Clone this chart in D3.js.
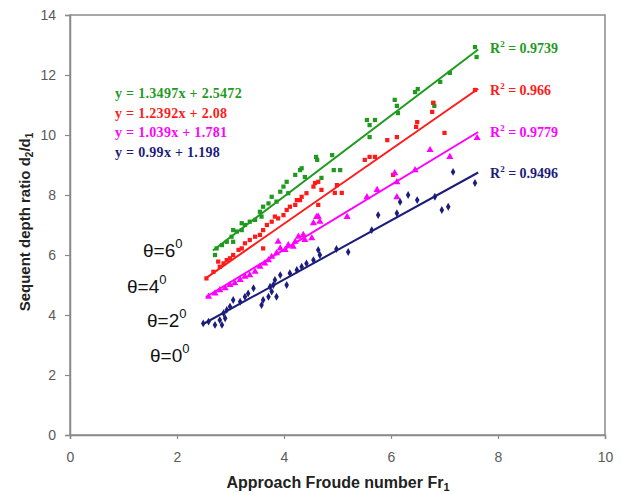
<!DOCTYPE html>
<html>
<head>
<meta charset="utf-8">
<script src="https://cdn.jsdelivr.net/npm/d3@7"></script>
<style>
  body { margin: 0; background: #fff; }
  svg { display: block; }
</style>
</head>
<body>
<svg id="chart" width="621" height="495"></svg>
<script>
// ---------- data ----------
const xTicks = [0, 2, 4, 6, 8, 10];
const yTicks = [0, 2, 4, 6, 8, 10, 12, 14];

const seriesNames = ["theta6", "theta4", "theta2", "theta0"];
const seriesColors = ["#1f9a1f", "#ff1a1a", "#ff00ff", "#1c1c7c"];
const equations = ["y = 1.3497x + 2.5472", "y = 1.2392x + 2.08", "y = 1.039x + 1.781", "y = 0.99x + 1.198"];
const r2Values = ["0.9739", "0.966", "0.9779", "0.9496"];
const thetaLabels = ["6", "4", "2", "0"];

// trend line end points [x0, y0, x1, y1]
const trendGreen = [2.67, 6.15, 7.63, 12.85];
const trendRed = [2.54, 5.23, 7.63, 11.54];
const trendMagenta = [2.54, 4.6, 7.63, 10.1];
const trendBlue = [2.49, 3.7, 7.63, 8.75];

const pointsGreen = [
  [2.71,6.0],[2.74,6.22],[2.84,6.33],[2.93,6.44],[3.05,6.44],[3.02,6.61],[3.05,6.83],[3.12,6.78],
  [3.21,6.83],[3.21,7.06],[3.27,7.0],[3.36,7.11],[3.46,7.17],[3.58,7.28],[3.55,7.44],[3.61,7.61],
  [3.71,7.72],[3.77,7.94],[3.86,7.78],[3.93,8.11],[3.99,8.28],[4.08,8.06],[4.05,8.44],[4.21,8.67],
  [4.33,8.89],[4.3,8.83],[4.39,8.6],[4.6,9.27],[4.62,9.17],[4.7,8.57],[4.9,9.33],[4.93,8.83],
  [5.05,8.83],[5.55,10.5],[5.6,10.33],[5.6,9.93],[5.7,10.5],[6.07,11.17],[6.11,10.97],[6.13,10.73],
  [6.45,11.43],[6.5,11.53],[6.79,11.07],[6.81,10.97],[6.92,11.77],[7.1,12.07],[7.57,12.93],[7.6,12.6]
];
const pointsRed = [
  [2.55,5.22],[2.68,5.44],[2.77,5.78],[2.8,5.61],[2.87,5.72],[2.93,5.83],[2.99,5.89],[3.05,6.0],
  [3.15,6.17],[3.21,6.22],[3.27,6.39],[3.36,6.5],[3.46,6.61],[3.55,6.67],[3.61,6.83],[3.61,6.22],
  [3.68,7.0],[3.77,7.11],[3.83,7.28],[3.89,7.22],[3.99,7.33],[4.05,7.5],[4.11,7.61],[4.21,7.67],
  [4.24,7.83],[4.33,7.94],[4.42,8.06],[4.55,8.28],[4.64,8.44],[4.7,8.17],[4.3,7.83],[4.58,8.4],
  [4.64,7.67],[4.99,8.33],[4.95,8.07],[5.08,8.07],[5.51,9.17],[5.6,9.27],[5.7,9.27],[5.93,9.83],
  [6.11,9.93],[6.04,8.67],[6.49,10.43],[6.47,10.27],[6.77,10.77],[6.79,11.07],[7.0,10.07],[7.57,11.5]
];
const pointsMagenta = [
  [2.59,4.61],[2.71,4.72],[2.8,4.83],[2.9,4.89],[2.99,5.0],[3.08,5.06],[3.18,5.17],[3.27,5.28],
  [3.36,5.33],[3.46,5.44],[3.55,5.61],[3.64,5.72],[3.71,5.83],[3.77,5.94],[3.86,6.06],[3.89,6.44],
  [3.93,6.22],[4.02,6.17],[4.08,6.33],[4.17,6.28],[4.21,6.44],[4.27,6.61],[4.36,6.67],[4.39,6.5],
  [4.52,6.56],[4.55,7.06],[4.64,7.28],[4.67,7.11],[4.61,7.27],[5.18,7.27],[5.55,7.93],[5.74,8.17],
  [6.07,8.73],[6.11,8.43],[6.11,7.93],[6.45,8.83],[6.73,9.5],[7.1,9.27],[7.61,9.9]
];
const pointsBlue = [
  [2.49,3.72],[2.59,3.78],[2.71,3.67],[2.84,3.67],[2.8,3.83],[2.9,3.89],[2.87,4.06],[2.93,4.17],
  [2.99,4.28],[3.05,4.5],[3.18,4.44],[3.27,4.61],[3.33,4.72],[3.43,4.89],[3.58,4.33],[3.61,4.5],
  [3.71,4.61],[3.86,4.61],[3.77,4.78],[3.74,4.94],[3.8,5.0],[3.83,5.17],[3.93,5.33],[4.05,5.0],
  [4.11,5.39],[4.24,5.5],[4.33,5.61],[4.42,5.72],[4.55,5.83],[4.67,6.0],[4.64,6.17],[4.98,6.2],
  [5.2,6.1],[5.64,6.83],[5.76,7.33],[6.11,7.39],[6.17,7.77],[6.32,8.0],[6.49,7.83],[6.82,7.94],
  [6.95,7.5],[7.07,7.61],[7.16,8.77],[7.57,8.4]
];

const allPoints = [pointsGreen, pointsRed, pointsMagenta, pointsBlue];
const allTrends = [trendGreen, trendRed, trendMagenta, trendBlue];
const markerTypes = [d3.symbolSquare, d3.symbolSquare, d3.symbolTriangle, d3.symbolDiamond];

// ---------- layout ----------
const svg = d3.select("#chart");
const x = d3.scaleLinear().domain([0, 10]).range([70, 605]);
const y = d3.scaleLinear().domain([0, 14]).range([435, 15]);
const axisColor = "#8a8a8a";
const tickText = "#5a5a5a";

// frame
svg.append("rect")
  .attr("x", x(0)).attr("y", y(14))
  .attr("width", x(10) - x(0)).attr("height", y(0) - y(14))
  .attr("fill", "none").attr("stroke", axisColor).attr("stroke-width", 1.5);

// axes
const xAxis = svg.append("g").attr("transform", `translate(0,${y(0)})`)
  .call(d3.axisBottom(x).tickValues(xTicks).tickSize(4).tickPadding(13).tickFormat(d3.format("d")));
const yAxis = svg.append("g").attr("transform", `translate(${x(0)},0)`)
  .call(d3.axisLeft(y).tickValues(yTicks).tickSize(5).tickPadding(9).tickFormat(d3.format("d")));
[xAxis, yAxis].forEach(g => {
  g.select(".domain").attr("stroke", axisColor).attr("stroke-width", 1.5);
  g.selectAll(".tick line").attr("stroke", axisColor).attr("stroke-width", 1.2);
  g.selectAll(".tick text").attr("fill", tickText)
    .style("font-family", "Liberation Sans, Arial, sans-serif").style("font-size", "14px");
});

// trend lines
allTrends.forEach((t, i) => {
  svg.append("line")
    .attr("x1", x(t[0])).attr("y1", y(t[1]))
    .attr("x2", x(t[2])).attr("y2", y(t[3]))
    .attr("stroke", seriesColors[i]).attr("stroke-width", 2);
});

// points
allPoints.forEach((pts, i) => {
  const sym = d3.symbol().type(markerTypes[i]).size(markerTypes[i] === d3.symbolTriangle ? 22 : 18);
  svg.append("g").selectAll("path").data(pts).join("path")
    .attr("d", sym)
    .attr("transform", d => `translate(${x(d[0])},${y(d[1])})`)
    .attr("fill", seriesColors[i]);
});

// equations
const eqY = [98, 118, 137, 157];
equations.forEach((e, i) => {
  svg.append("text")
    .attr("x", 115).attr("y", eqY[i])
    .attr("fill", seriesColors[i])
    .style("font-family", "Liberation Serif, Times New Roman, serif")
    .style("font-weight", "bold").style("font-size", "14px")
    .style("letter-spacing", "0.3px")
    .text(e);
});

// R² labels
const r2Y = [53, 95, 137, 178];
r2Values.forEach((r, i) => {
  const t = svg.append("text")
    .attr("x", 490).attr("y", r2Y[i])
    .attr("fill", seriesColors[i])
    .style("font-family", "Liberation Serif, Times New Roman, serif")
    .style("font-weight", "bold").style("font-size", "14px");
  t.append("tspan").text("R");
  t.append("tspan").attr("dy", -6).style("font-size", "9px").text("2");
  t.append("tspan").attr("dy", 6).text(" = " + r);
});

// theta labels
const thX = [143, 127, 147, 150];
const thY = [257, 293, 327, 362];
thetaLabels.forEach((d, i) => {
  const t = svg.append("text")
    .attr("x", thX[i]).attr("y", thY[i]).attr("fill", "#111")
    .style("font-family", "Liberation Sans, Arial, sans-serif")
    .style("font-size", "19px");
  t.append("tspan").text("θ=" + d);
  t.append("tspan").attr("dy", -9).style("font-size", "13px").text("0");
});

// axis titles
const xt = svg.append("text")
  .attr("x", 338).attr("y", 488).attr("text-anchor", "middle").attr("fill", "#222")
  .style("font-family", "Liberation Sans, Arial, sans-serif")
  .style("font-weight", "bold").style("font-size", "16px");
xt.append("tspan").text("Approach Froude number Fr");
xt.append("tspan").attr("dy", 3).style("font-size", "11px").text("1");

const yt = svg.append("text")
  .attr("transform", "translate(30,222) rotate(-90)")
  .attr("text-anchor", "middle").attr("fill", "#222")
  .style("font-family", "Liberation Sans, Arial, sans-serif")
  .style("font-weight", "bold").style("font-size", "15px");
yt.append("tspan").text("Sequent depth ratio d");
yt.append("tspan").attr("dy", 3).style("font-size", "10px").text("2");
yt.append("tspan").attr("dy", -3).text("/d");
yt.append("tspan").attr("dy", 3).style("font-size", "10px").text("1");
</script>
</body>
</html>
